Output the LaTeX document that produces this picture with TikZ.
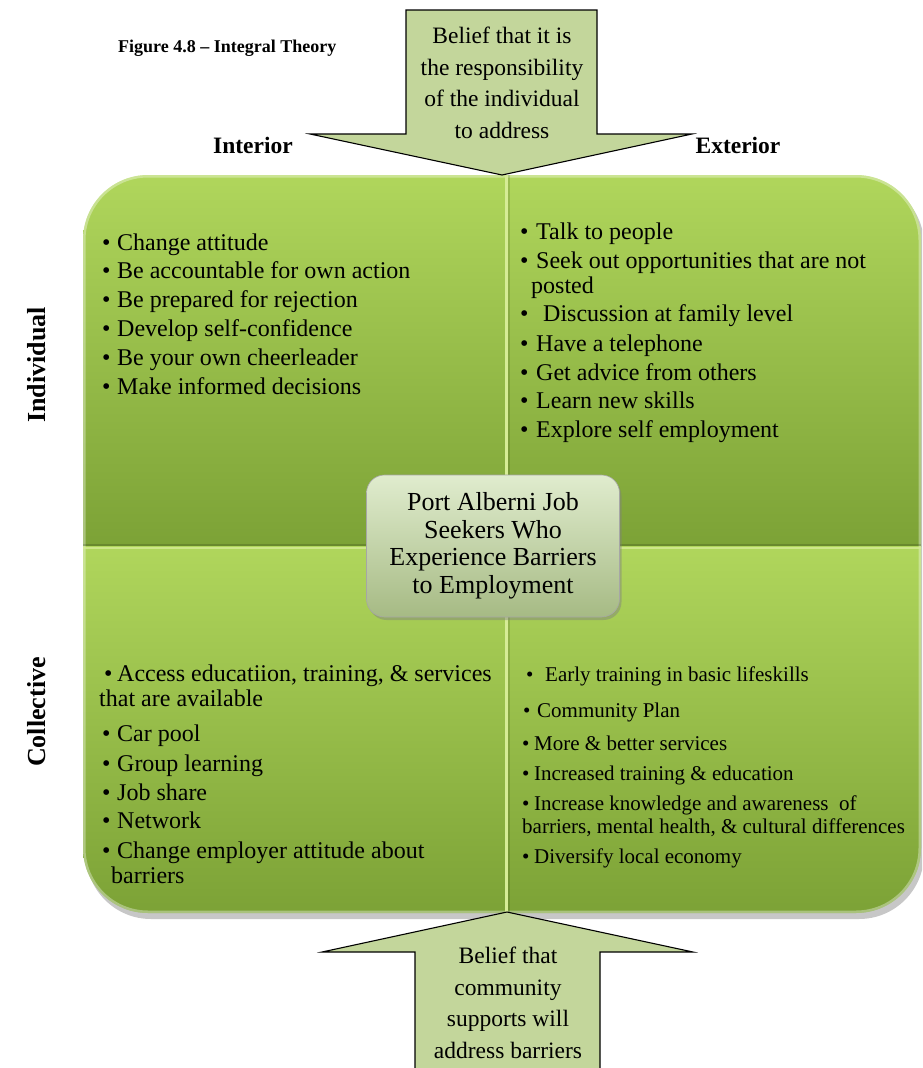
\documentclass[tikz,border=0pt]{standalone}
\usepackage{fontspec}
\setmainfont{Liberation Serif}
\usetikzlibrary{shadows}

\definecolor{qtop}{RGB}{176,214,92}
\definecolor{qbot}{RGB}{124,162,54}
\definecolor{arrowfill}{RGB}{195,214,155}
\definecolor{ctop}{RGB}{224,236,206}
\definecolor{cbot}{RGB}{166,186,132}
\definecolor{seplight}{RGB}{214,236,150}

\newcommand\bul[1]{\makebox[#1][l]{\textbullet}}

\tikzset{
  quad/.style={top color=qtop, bottom color=qbot},
  item/.style={font=\fontsize{24}{29}\selectfont, anchor=base west, inner sep=0pt},
  small item/.style={font=\fontsize{21}{25}\selectfont, anchor=base west, inner sep=0pt},
  heading/.style={font=\fontsize{23.5}{28}\selectfont\bfseries, inner sep=0pt},
  side heading/.style={font=\fontsize{26}{30}\selectfont\bfseries, inner sep=0pt, rotate=90},
  belief/.style={draw=black, line width=1.1pt, fill=arrowfill, line join=miter},
  belief text/.style={font=\fontsize{23.5}{31.5}\selectfont, align=center, inner sep=0pt},
  core/.style={rounded corners=18pt, top color=ctop, bottom color=cbot,
    draw=black!35, line width=0.6pt, minimum width=253pt, minimum height=142pt,
    drop shadow={opacity=0.45, shadow xshift=2pt, shadow yshift=-3pt},
    font=\fontsize{26}{27.5}\selectfont, align=center, inner sep=0pt},
}

\begin{document}
\begin{tikzpicture}[x=1pt,y=-1pt]
\useasboundingbox (0,0) rectangle (922,1068);
\clip (0,0) rectangle (922,1068);

% shadow under the quadrant block
\fill[black, opacity=0.22, rounded corners=65pt] (86,180) rectangle (924,919);

% the four quadrants
\begin{scope}
  \clip[rounded corners=65pt] (83,175) rectangle (921,913);
  \shade[quad] (83,175) rectangle (505,546);
  \shade[quad] (505,175) rectangle (921,546);
  \shade[quad] (83,546) rectangle (505,913);
  \shade[quad] (505,546) rectangle (921,913);
  % bevel highlight round the block
  \draw[white, opacity=0.35, line width=5pt, rounded corners=65pt] (83,175) rectangle (921,913);
  % dividers
  \draw[seplight, line width=3pt] (506,175) -- (506,913);
  \draw[black, opacity=0.12, line width=2pt] (508.5,175) -- (508.5,913);
  \draw[black, opacity=0.15, line width=2pt] (83,545) -- (921,545);
  \draw[seplight, opacity=0.8, line width=2pt] (83,547.5) -- (921,547.5);
\end{scope}

% centre box
\node[core] (core) at (493,546) {Port Alberni Job\\Seekers Who\\Experience Barriers\\to Employment};

% individual / interior
\node[item] (tl1) at (102,250) {\bul{15pt}Change attitude};
\node[item] (tl2) at (102,278) {\bul{15pt}Be accountable for own action};
\node[item] (tl3) at (102,307) {\bul{15pt}Be prepared for rejection};
\node[item] (tl4) at (102,336) {\bul{15pt}Develop self-confidence};
\node[item] (tl5) at (102,365) {\bul{15pt}Be your own cheerleader};
\node[item] (tl6) at (102,394) {\bul{15pt}Make informed decisions};

% individual / exterior
\node[item] (tr1) at (520,239) {\bul{16pt}Talk to people};
\node[item] (tr2) at (520,268) {\bul{16pt}Seek out opportunities that are not};
\node[item] (tr2b) at (531,293) {posted};
\node[item] (tr3) at (520,321) {\bul{23pt}Discussion at family level};
\node[item] (tr4) at (520,351) {\bul{16pt}Have a telephone};
\node[item] (tr5) at (520,380) {\bul{16pt}Get advice from others};
\node[item] (tr6) at (520,408) {\bul{16pt}Learn new skills};
\node[item] (tr7) at (520,437) {\bul{16pt}Explore self employment};

% collective / interior
\node[item] (bl1) at (104,681) {\bul{13pt}Access educatiion, training, \& services};
\node[item] (bl1b) at (99,706) {that are available};
\node[item] (bl2) at (102,741) {\bul{15pt}Car pool};
\node[item] (bl3) at (102,771) {\bul{15pt}Group learning};
\node[item] (bl4) at (102,800) {\bul{15pt}Job share};
\node[item] (bl5) at (102,828) {\bul{15pt}Network};
\node[item] (bl6) at (102,858) {\bul{15pt}Change employer attitude about};
\node[item] (bl6b) at (111,883) {barriers};

% collective / exterior
\node[small item] (br1) at (526,681) {\bul{19pt}Early training in basic lifeskills};
\node[small item] (br2) at (523,717) {\bul{14pt}Community Plan};
\node[small item] (br3) at (522,750) {\bul{12pt}More \& better services};
\node[small item] (br4) at (522,780) {\bul{12pt}Increased training \& education};
\node[small item] (br5) at (522,810) {\bul{12pt}Increase knowledge and awareness\ \ of};
\node[small item] (br5b) at (522,833) {barriers, mental health, \& cultural differences};
\node[small item] (br6) at (522,863) {\bul{12pt}Diversify local economy};

% headings
\node[font=\fontsize{18}{22}\selectfont\bfseries, anchor=west, inner sep=0pt] (title) at (118,48) {Figure 4.8 -- Integral Theory};
\node[heading] (interior) at (253,145) {Interior};
\node[heading] (exterior) at (738,145) {Exterior};
\node[side heading] (individual) at (37,365) {Individual};
\node[side heading] (collective) at (37,712) {Collective};

% belief arrows
\draw[belief] (406,10) -- (597,10) -- (597,134) -- (692,134) -- (502,175)
  -- (310,134) -- (406,134) -- cycle;
\node[belief text] (topbelief) at (502,83) {Belief that it is\\the responsibility\\of the individual\\to address};

\draw[belief] (507,912) -- (693,952) -- (600,952) -- (600,1080) -- (415,1080)
  -- (415,952) -- (322,952) -- cycle;
\node[belief text] (bottombelief) at (508,1003) {Belief that\\community\\supports will\\address barriers};
\end{tikzpicture}
\end{document}
